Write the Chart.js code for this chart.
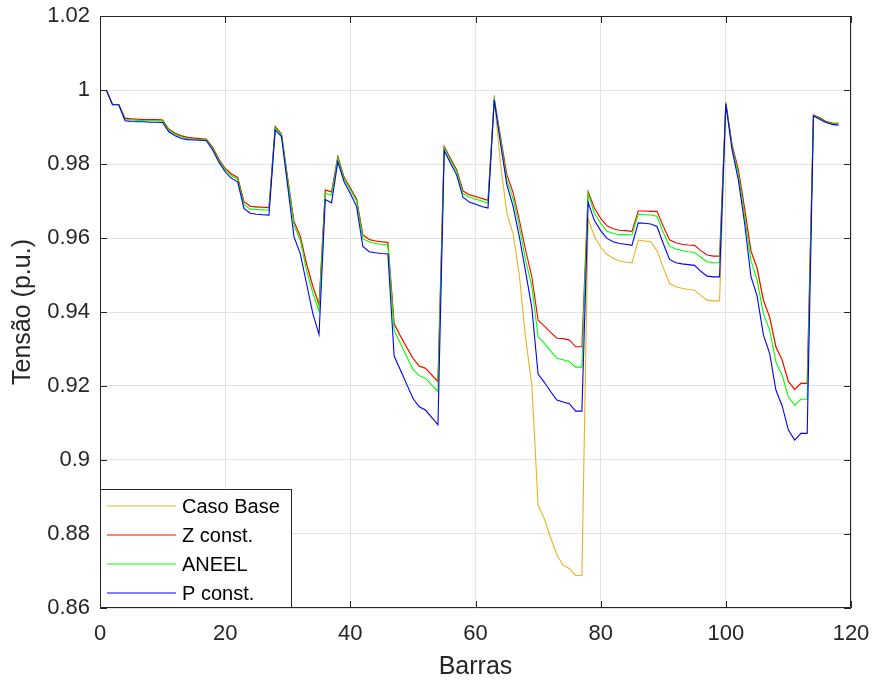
<!DOCTYPE html>
<html>
<head>
<meta charset="utf-8">
<script src="https://cdn.jsdelivr.net/npm/chart.js@4/dist/chart.umd.min.js"></script>
<style>
  body { margin: 0; background: #fff; }
  canvas { display: block; }
</style>
</head>
<body>
<canvas id="chart" width="873" height="682"></canvas>
<script>
// bus numbers 1..118
const buses = Array.from({ length: 118 }, (_, i) => i + 1);

const casoBase = [
  1.0000, 0.9961, 0.9961, 0.9924, 0.9922, 0.9921, 0.9920, 0.9920, 0.9920, 0.9919,
  0.9894, 0.9883, 0.9876, 0.9872, 0.9870, 0.9869, 0.9867, 0.9845, 0.9813, 0.9788,
  0.9773, 0.9764, 0.9698, 0.9686, 0.9684, 0.9683, 0.9682, 0.9901, 0.9881, 0.9760,
  0.9644, 0.9605, 0.9530, 0.9470, 0.9420, 0.9730, 0.9724, 0.9820, 0.9764, 0.9735,
  0.9705, 0.9608, 0.9596, 0.9592, 0.9590, 0.9588, 0.9368, 0.9335, 0.9305, 0.9275,
  0.9254, 0.9248, 0.9230, 0.9212, 0.9847, 0.9815, 0.9784, 0.9727, 0.9717, 0.9712,
  0.9707, 0.9702, 0.9973, 0.9800, 0.9668, 0.9612, 0.9500, 0.9330, 0.9203, 0.8879,
  0.8841, 0.8790, 0.8744, 0.8715, 0.8707, 0.8688, 0.8688, 0.9652, 0.9604, 0.9575,
  0.9556, 0.9545, 0.9538, 0.9535, 0.9533, 0.9594, 0.9592, 0.9590, 0.9566, 0.9520,
  0.9477, 0.9468, 0.9464, 0.9461, 0.9459, 0.9445, 0.9432, 0.9430, 0.9430, 0.9966,
  0.9851, 0.9784, 0.9680, 0.9566, 0.9518, 0.9432, 0.9386, 0.9306, 0.9270, 0.9212,
  0.9191, 0.9207, 0.9207, 0.9932, 0.9925, 0.9915, 0.9911, 0.9910
];

const zConst = [
  1.0000, 0.9961, 0.9961, 0.9924, 0.9922, 0.9921, 0.9920, 0.9920, 0.9920, 0.9919,
  0.9894, 0.9883, 0.9876, 0.9872, 0.9870, 0.9869, 0.9867, 0.9845, 0.9813, 0.9788,
  0.9773, 0.9764, 0.9698, 0.9686, 0.9684, 0.9683, 0.9682, 0.9901, 0.9881, 0.9760,
  0.9644, 0.9605, 0.9530, 0.9470, 0.9420, 0.9730, 0.9724, 0.9820, 0.9764, 0.9735,
  0.9705, 0.9608, 0.9596, 0.9592, 0.9590, 0.9588, 0.9368, 0.9335, 0.9305, 0.9275,
  0.9254, 0.9248, 0.9230, 0.9212, 0.9847, 0.9815, 0.9784, 0.9727, 0.9717, 0.9712,
  0.9707, 0.9702, 0.9976, 0.9874, 0.9772, 0.9723, 0.9649, 0.9568, 0.9495, 0.9378,
  0.9362, 0.9345, 0.9329, 0.9328, 0.9324, 0.9306, 0.9306, 0.9725, 0.9681, 0.9653,
  0.9633, 0.9625, 0.9621, 0.9620, 0.9618, 0.9673, 0.9673, 0.9672, 0.9672, 0.9632,
  0.9595, 0.9587, 0.9583, 0.9581, 0.9580, 0.9566, 0.9554, 0.9551, 0.9551, 0.9966,
  0.9851, 0.9784, 0.9680, 0.9566, 0.9518, 0.9432, 0.9386, 0.9306, 0.9270, 0.9212,
  0.9191, 0.9207, 0.9207, 0.9932, 0.9925, 0.9915, 0.9911, 0.9910
];

const aneel = [
  1.0000, 0.9960, 0.9960, 0.9920, 0.9919, 0.9918, 0.9917, 0.9917, 0.9917, 0.9916,
  0.9891, 0.9880, 0.9873, 0.9869, 0.9867, 0.9866, 0.9865, 0.9842, 0.9809, 0.9784,
  0.9768, 0.9759, 0.9690, 0.9678, 0.9677, 0.9676, 0.9675, 0.9897, 0.9879, 0.9755,
  0.9635, 0.9594, 0.9513, 0.9452, 0.9402, 0.9721, 0.9716, 0.9815, 0.9760, 0.9730,
  0.9700, 0.9598, 0.9590, 0.9585, 0.9583, 0.9581, 0.9351, 0.9315, 0.9280, 0.9245,
  0.9228, 0.9221, 0.9203, 0.9185, 0.9843, 0.9810, 0.9779, 0.9720, 0.9711, 0.9705,
  0.9700, 0.9694, 0.9975, 0.9866, 0.9757, 0.9707, 0.9631, 0.9540, 0.9470, 0.9333,
  0.9315, 0.9295, 0.9275, 0.9271, 0.9266, 0.9251, 0.9251, 0.9720, 0.9667, 0.9640,
  0.9618, 0.9612, 0.9609, 0.9609, 0.9608, 0.9664, 0.9663, 0.9662, 0.9659, 0.9615,
  0.9578, 0.9570, 0.9566, 0.9563, 0.9561, 0.9548, 0.9536, 0.9533, 0.9533, 0.9964,
  0.9845, 0.9772, 0.9660, 0.9540, 0.9486, 0.9396, 0.9351, 0.9265, 0.9229, 0.9170,
  0.9148, 0.9164, 0.9164, 0.9931, 0.9923, 0.9913, 0.9909, 0.9908
];

const pConst = [
  1.0000, 0.9960, 0.9960, 0.9917, 0.9915, 0.9914, 0.9914, 0.9913, 0.9913, 0.9912,
  0.9887, 0.9876, 0.9869, 0.9866, 0.9865, 0.9864, 0.9863, 0.9838, 0.9805, 0.9779,
  0.9761, 0.9752, 0.9680, 0.9667, 0.9664, 0.9663, 0.9662, 0.9892, 0.9874, 0.9739,
  0.9603, 0.9558, 0.9477, 0.9396, 0.9339, 0.9704, 0.9695, 0.9806, 0.9752, 0.9720,
  0.9685, 0.9577, 0.9563, 0.9560, 0.9558, 0.9557, 0.9281, 0.9243, 0.9205, 0.9167,
  0.9144, 0.9135, 0.9115, 0.9095, 0.9836, 0.9803, 0.9770, 0.9710, 0.9697, 0.9691,
  0.9685, 0.9681, 0.9973, 0.9854, 0.9745, 0.9686, 0.9604, 0.9509, 0.9412, 0.9232,
  0.9210, 0.9185, 0.9162, 0.9157, 0.9152, 0.9132, 0.9132, 0.9696, 0.9647, 0.9620,
  0.9599, 0.9590, 0.9585, 0.9583, 0.9580, 0.9641, 0.9640, 0.9638, 0.9631, 0.9585,
  0.9542, 0.9533, 0.9530, 0.9528, 0.9526, 0.9510, 0.9497, 0.9495, 0.9495, 0.9962,
  0.9838, 0.9757, 0.9640, 0.9497, 0.9443, 0.9338, 0.9288, 0.9189, 0.9146, 0.9081,
  0.9054, 0.9072, 0.9072, 0.9930, 0.9921, 0.9912, 0.9907, 0.9905
];

const seriesNames = ['Caso Base', 'Z const.', 'ANEEL', 'P const.'];
const seriesColors = ['#EDB120', '#FF0000', '#00FF00', '#0000FF'];

const xTicks = [0, 20, 40, 60, 80, 100, 120];
const yTicks = [0.86, 0.88, 0.9, 0.92, 0.94, 0.96, 0.98, 1, 1.02];
const yTickLabels = ['0.86', '0.88', '0.9', '0.92', '0.94', '0.96', '0.98', '1', '1.02'];

const FONT = "'Liberation Sans', Arial, Helvetica, sans-serif";
const TEXT = '#262626';

function toPoints(values) {
  return values.map((v, i) => ({ x: buses[i], y: v }));
}

// MATLAB style box, inward ticks and legend in the lower-left corner
const matlabBox = {
  id: 'matlabBox',
  afterDatasetsDraw(chart) {
    const { ctx, chartArea: a, scales } = chart;
    const tl = 7;
    ctx.save();
    ctx.strokeStyle = TEXT;
    ctx.lineWidth = 1;
    ctx.beginPath();
    ctx.rect(a.left + 0.5, a.top + 0.5, a.right - a.left - 1, a.bottom - a.top - 1);
    xTicks.forEach(t => {
      const x = Math.round(scales.x.getPixelForValue(t)) + 0.5;
      ctx.moveTo(x, a.bottom);
      ctx.lineTo(x, a.bottom - tl);
      ctx.moveTo(x, a.top);
      ctx.lineTo(x, a.top + tl);
    });
    yTicks.forEach(t => {
      const y = Math.round(scales.y.getPixelForValue(t)) + 0.5;
      ctx.moveTo(a.left, y);
      ctx.lineTo(a.left + tl, y);
      ctx.moveTo(a.right, y);
      ctx.lineTo(a.right - tl, y);
    });
    ctx.stroke();

    // legend
    const bx = a.left + 0.5, by = 489.5, bw = 191, bh = a.bottom - 490;
    ctx.fillStyle = '#fff';
    ctx.fillRect(bx, by, bw, bh);
    ctx.strokeStyle = TEXT;
    ctx.strokeRect(bx, by, bw, bh);
    ctx.font = '20px ' + FONT;
    ctx.textBaseline = 'middle';
    seriesNames.forEach((name, i) => {
      const y = 506 + i * 29;
      ctx.strokeStyle = seriesColors[i];
      ctx.lineWidth = 1.2;
      ctx.beginPath();
      ctx.moveTo(a.left + 7, y);
      ctx.lineTo(a.left + 76, y);
      ctx.stroke();
      ctx.fillStyle = '#000';
      ctx.fillText(name, a.left + 82, y + 1);
    });
    ctx.restore();
  }
};

const datasets = [casoBase, zConst, aneel, pConst].map((values, i) => ({
  label: seriesNames[i],
  data: toPoints(values),
  borderColor: seriesColors[i],
  order: 4 - i
}));

new Chart(document.getElementById('chart'), {
  type: 'line',
  data: { datasets },
  options: {
    responsive: false,
    animation: false,
    layout: { padding: { left: 0, right: 22, top: 16, bottom: 0 } },
    elements: {
      line: { borderWidth: 1.1, tension: 0, fill: false },
      point: { radius: 0 }
    },
    plugins: {
      legend: { display: false },
      tooltip: { enabled: false }
    },
    scales: {
      x: {
        type: 'linear',
        min: 0,
        max: 120,
        afterBuildTicks: s => { s.ticks = xTicks.map(v => ({ value: v })); },
        afterFit: s => {
          s.height = 74;
          s.paddingLeft = 0;
          s.paddingRight = 0;
        },
        grid: { color: '#e3e3e3', drawTicks: false },
        border: { display: false },
        ticks: { padding: 13, color: TEXT, font: { family: FONT, size: 22 }, callback: v => String(v) },
        title: { display: true, text: 'Barras', color: TEXT, font: { family: FONT, size: 25 }, padding: { top: 0, bottom: 0 } }
      },
      y: {
        type: 'linear',
        min: 0.86,
        max: 1.02,
        afterBuildTicks: s => { s.ticks = yTicks.map(v => ({ value: v })); },
        afterFit: s => {
          s.width = 100;
          s.paddingTop = 0;
          s.paddingBottom = 0;
        },
        grid: { color: '#e3e3e3', drawTicks: false },
        border: { display: false },
        ticks: { padding: 10, color: TEXT, font: { family: FONT, size: 22 }, callback: (v, i) => yTickLabels[i] },
        title: { display: true, text: 'Tensão (p.u.)', color: TEXT, font: { family: FONT, size: 25 }, padding: { top: 8, bottom: 0 } }
      }
    }
  },
  plugins: [matlabBox]
});
</script>
</body>
</html>
